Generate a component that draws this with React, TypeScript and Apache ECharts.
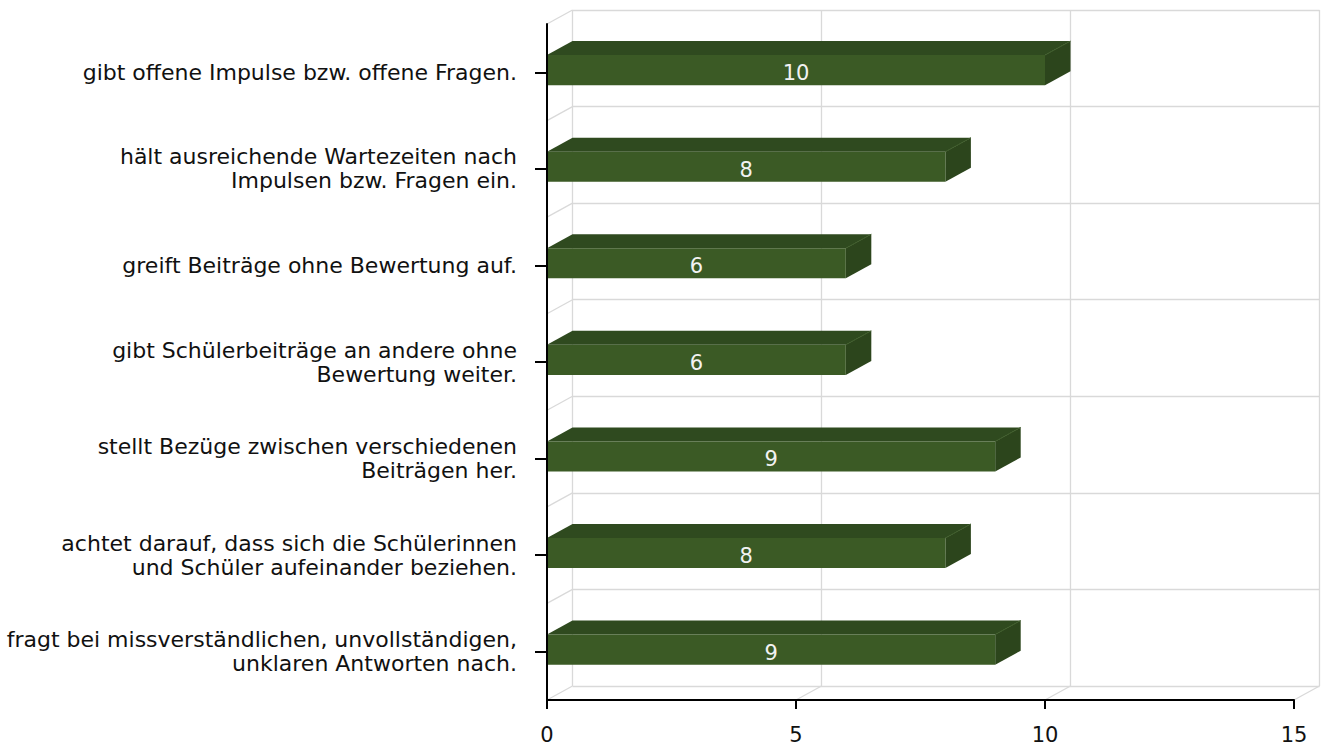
import React, { useEffect, useRef } from "react";
import * as echarts from "echarts";

const categories = [
  "gibt offene Impulse bzw. offene Fragen.",
  "hält ausreichende Wartezeiten nach\nImpulsen bzw. Fragen ein.",
  "greift Beiträge ohne Bewertung auf.",
  "gibt Schülerbeiträge an andere ohne\nBewertung weiter.",
  "stellt Bezüge zwischen verschiedenen\nBeiträgen her.",
  "achtet darauf, dass sich die Schülerinnen\nund Schüler aufeinander beziehen.",
  "fragt bei missverständlichen, unvollständigen,\nunklaren Antworten nach.",
];
const values = [10, 8, 6, 6, 9, 8, 9];
const xMin = 0;
const xMax = 15;
const xInterval = 5;
const xTickValues = [0, 5, 10, 15];

const FONT = "'DejaVu Sans', Verdana, sans-serif";
const DX = 25.5;
const DY = -14;
const GRID_LINE = "#D9D9D9";

export default function App() {
  const ref = useRef<HTMLDivElement>(null);
  useEffect(() => {
    if (!ref.current) return;
    const chart = echarts.init(ref.current, undefined, { renderer: "svg" });

    const barData = values.map((v, i) => [v, i]);
    const floorData = xTickValues.map((v) => [v, 0]);
    const wallData = categories.map((_, i) => [0, i]);

    const option: any = {
      animation: false,
      backgroundColor: "#ffffff",
      grid: [
        { left: 547, right: 30, top: 24, bottom: 51, containLabel: false },
        { left: 572.5, right: 4.5, top: 10, bottom: 65, containLabel: false },
      ],
      xAxis: [
        {
          type: "value",
          gridIndex: 0,
          min: xMin,
          max: xMax,
          interval: xInterval,
          z: 5,
          axisLine: { show: true, lineStyle: { color: "#000", width: 2 } },
          axisTick: { show: true, length: 9, lineStyle: { color: "#000", width: 2 } },
          axisLabel: { color: "#111", fontSize: 21, fontFamily: FONT, margin: 24 },
          splitLine: { show: false },
        },
        {
          type: "value",
          gridIndex: 1,
          min: xMin,
          max: xMax,
          interval: xInterval,
          axisLine: { show: false },
          axisTick: { show: false },
          axisLabel: { show: false },
          splitLine: { show: true, lineStyle: { color: GRID_LINE, width: 1.3 } },
        },
      ],
      yAxis: [
        {
          type: "category",
          gridIndex: 0,
          data: categories,
          inverse: true,
          z: 5,
          axisLine: { show: true, lineStyle: { color: "#000", width: 2 } },
          axisTick: { show: true, alignWithLabel: true, length: 12, lineStyle: { color: "#000", width: 2 } },
          axisLabel: {
            color: "#111",
            fontSize: 22,
            fontFamily: FONT,
            margin: 30,
            lineHeight: 24,
            align: "right",
          },
          splitLine: { show: false },
        },
        {
          type: "category",
          gridIndex: 1,
          data: categories,
          inverse: true,
          axisLine: { show: false },
          axisTick: { show: false },
          axisLabel: { show: false },
          splitLine: { show: true, lineStyle: { color: GRID_LINE, width: 1.3 } },
        },
      ],
      series: [
        {
          type: "custom",
          name: "floor",
          xAxisIndex: 0,
          yAxisIndex: 0,
          clip: false,
          silent: true,
          z: 1,
          data: floorData,
          renderItem: (params: any, api: any) => {
            const cs = params.coordSys;
            const x = api.coord([api.value(0), 0])[0];
            const y = cs.y + cs.height;
            return {
              type: "line",
              shape: { x1: x, y1: y, x2: x + DX, y2: y + DY },
              style: { stroke: GRID_LINE, lineWidth: 1.3 },
            };
          },
        },
        {
          type: "custom",
          name: "wall",
          xAxisIndex: 0,
          yAxisIndex: 0,
          clip: false,
          silent: true,
          z: 1,
          data: wallData,
          renderItem: (params: any, api: any) => {
            const c = api.coord([api.value(0), api.value(1)]);
            const band = api.size([0, 1])[1];
            const y = c[1] - band / 2;
            return {
              type: "line",
              shape: { x1: c[0], y1: y, x2: c[0] + DX, y2: y + DY },
              style: { stroke: GRID_LINE, lineWidth: 1.3 },
            };
          },
        },
        {
          type: "custom",
          name: "bars",
          xAxisIndex: 0,
          yAxisIndex: 0,
          clip: false,
          z: 3,
          data: barData,
          renderItem: (params: any, api: any) => {
            const v = api.value(0);
            const idx = api.value(1);
            const end = api.coord([v, idx]);
            const start = api.coord([0, idx]);
            const band = api.size([0, 1])[1];
            const cy = end[1];
            const top = cy - band * 0.178;
            const bottom = cy + band * 0.134;
            const x0 = start[0];
            const x1 = end[0];
            return {
              type: "group",
              children: [
                {
                  type: "polygon",
                  shape: {
                    points: [
                      [x0, top],
                      [x0 + DX, top + DY],
                      [x1 + DX, top + DY],
                      [x1, top],
                    ],
                  },
                  style: { fill: "#2F4A1F" },
                },
                {
                  type: "polygon",
                  shape: {
                    points: [
                      [x1, top],
                      [x1 + DX, top + DY],
                      [x1 + DX, bottom + DY],
                      [x1, bottom],
                    ],
                  },
                  style: { fill: "#2C451C" },
                },
                {
                  type: "line",
                  shape: { x1: x1, y1: top, x2: x1 + DX, y2: top + DY },
                  style: { stroke: "#3E5C2A", lineWidth: 1 },
                },
                {
                  type: "rect",
                  shape: { x: x0, y: top, width: x1 - x0, height: bottom - top },
                  style: { fill: "#3B5A25" },
                },
                {
                  type: "text",
                  style: {
                    x: (x0 + x1) / 2,
                    y: (top + bottom) / 2 + 3,
                    text: String(v),
                    fill: "#F2F2F2",
                    fontSize: 21,
                    fontFamily: FONT,
                    align: "center",
                    verticalAlign: "middle",
                  },
                },
              ],
            };
          },
        },
      ],
    };
    chart.setOption(option);
    return () => chart.dispose();
  }, []);
  return (
    <div
      ref={ref}
      style={{ position: "fixed", left: 0, top: 0, width: 1324, height: 751, background: "#fff" }}
    />
  );
}
